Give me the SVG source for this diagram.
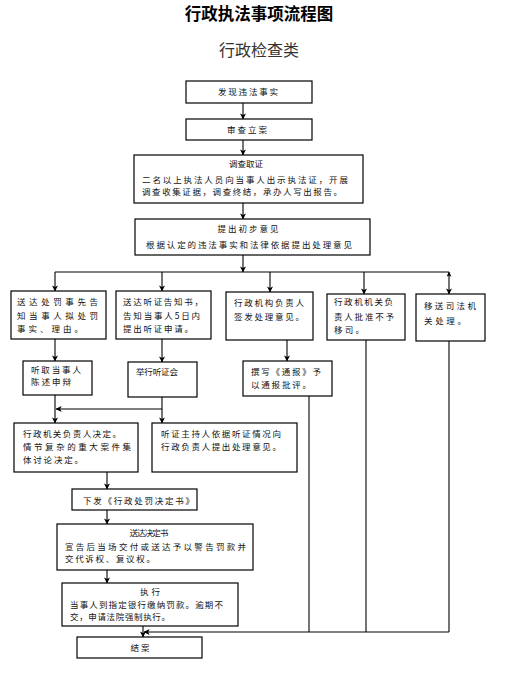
<svg xmlns="http://www.w3.org/2000/svg" width="509" height="679" viewBox="0 0 509 679">
<defs>
<style>
.box{fill:#fff;stroke:#000;stroke-width:1.2}
.t{font-family:"Noto Sans CJK SC","Noto Sans",sans-serif;font-size:8.5px;fill:#111}
.c{text-anchor:middle}
.ln{fill:none;stroke:#000;stroke-width:1.1}
.ar{fill:none;stroke:#000;stroke-width:1.1;marker-end:url(#ah)}
</style>
<marker id="ah" viewBox="0 0 8 8" refX="7.5" refY="4" markerWidth="6" markerHeight="6" markerUnits="userSpaceOnUse" orient="auto">
<path d="M0,0 L8,4 L0,8 L2,4 z" fill="#000"/>
</marker>
<marker id="as" viewBox="0 0 8 8" refX="0.5" refY="4" markerWidth="5" markerHeight="5" markerUnits="userSpaceOnUse" orient="auto">
<path d="M8,0 L0,4 L8,8 L6,4 z" fill="#000"/>
</marker>
</defs>
<rect width="509" height="679" fill="#fff"/>
<text x="259" y="20" text-anchor="middle" font-family="'Noto Sans CJK SC',sans-serif" font-size="16.5" font-weight="bold" fill="#000">行政执法事项流程图</text>
<text x="259" y="56" text-anchor="middle" font-family="'Noto Sans CJK SC',sans-serif" font-size="16" fill="#333">行政检查类</text>

<g id="connectors">
<line class="ar" x1="243" y1="103" x2="243" y2="119"/>
<line class="ar" x1="243" y1="140" x2="243" y2="155"/>
<line class="ar" x1="243" y1="203" x2="243" y2="219"/>
<line class="ar" x1="243" y1="255" x2="243" y2="272"/>
<line class="ln" x1="55" y1="272" x2="449" y2="272"/>
<line class="ar" x1="55" y1="272" x2="55" y2="291"/>
<line class="ar" x1="162" y1="272" x2="162" y2="291"/>
<line class="ar" x1="270" y1="272" x2="270" y2="292"/>
<line class="ar" x1="364" y1="272" x2="364" y2="294"/>
<line class="ar" x1="449" y1="272" x2="449" y2="294" style="marker-start:url(#as)"/>
<line class="ar" x1="55" y1="339" x2="55" y2="361"/>
<line class="ar" x1="162" y1="339" x2="162" y2="362"/>
<line class="ar" x1="287" y1="340" x2="287" y2="361"/>
<line class="ln" x1="366" y1="340" x2="366" y2="632"/>
<line class="ln" x1="449" y1="341" x2="449" y2="632" stroke="#444" stroke-width="1.6"/>
<line class="ln" x1="309" y1="396" x2="309" y2="632"/>
<line class="ar" x1="449" y1="632" x2="144" y2="632" stroke="#333" stroke-width="1.5"/>
<line class="ar" x1="55" y1="395" x2="55" y2="423"/>
<line class="ar" x1="162" y1="397" x2="162" y2="423"/>
<line class="ar" x1="162" y1="409" x2="56" y2="409"/>
<line class="ar" x1="107" y1="472" x2="107" y2="489"/>
<line class="ar" x1="107" y1="510" x2="107" y2="524"/>
<line class="ar" x1="107" y1="570" x2="107" y2="583"/>
<line class="ar" x1="143" y1="626" x2="143" y2="637"/>
</g>

<g id="n1"><rect class="box" x="186" y="81" width="126" height="22"/>
<text class="t c" x="248" y="95" textLength="60">发现违法事实</text></g>
<g id="n2"><rect class="box" x="186" y="119" width="126" height="21"/>
<text class="t c" x="247" y="133" textLength="40">审查立案</text></g>
<g id="n3"><rect class="box" x="134" y="155" width="229" height="48"/>
<text class="t c" x="246" y="167" textLength="34">调查取证</text>
<text class="t" x="142" y="183" textLength="206">二名以上执法人员向当事人出示执法证，开展</text>
<text class="t" x="142" y="195" textLength="200">调查收集证据，调查终结，承办人写出报告。</text></g>
<g id="n4"><rect class="box" x="135" y="219" width="235" height="36"/>
<text class="t c" x="248" y="232" textLength="61">提出初步意见</text>
<text class="t" x="146" y="248" textLength="206">根据认定的违法事实和法律依据提出处理意见</text></g>

<g id="nA"><rect class="box" x="11" y="291" width="95" height="48"/>
<text class="t" x="17" y="305" textLength="81">送达处罚事先告</text>
<text class="t" x="17" y="319" textLength="81">知当事人拟处罚</text>
<text class="t" x="17" y="332" textLength="66">事实、理由。</text></g>
<g id="nB"><rect class="box" x="116" y="291" width="95" height="48"/>
<text class="t" x="123" y="305" textLength="80">送达听证告知书，</text>
<text class="t" x="123" y="319" textLength="77">告知当事人5日内</text>
<text class="t" x="123" y="332" textLength="70">提出听证申请。</text></g>
<g id="nC"><rect class="box" x="226" y="292" width="87" height="48"/>
<text class="t" x="234" y="306" textLength="70">行政机构负责人</text>
<text class="t" x="234" y="320" textLength="70">签发处理意见。</text></g>
<g id="nD"><rect class="box" x="327" y="294" width="78" height="46"/>
<text class="t" x="334" y="305" textLength="59">行政机机关负</text>
<text class="t" x="334" y="320" textLength="60">责人批准不予</text>
<text class="t" x="334" y="333" textLength="30">移司。</text></g>
<g id="nE"><rect class="box" x="416" y="294" width="69" height="47"/>
<text class="t" x="424" y="309" textLength="52">移送司法机</text>
<text class="t" x="424" y="324" textLength="42">关处理。</text></g>

<g id="nF"><rect class="box" x="23" y="361" width="69" height="34"/>
<text class="t" x="31" y="373" textLength="50">听取当事人</text>
<text class="t" x="31" y="385" textLength="40">陈述申辩</text></g>
<g id="nG"><rect class="box" x="128" y="362" width="69" height="35"/>
<text class="t" x="136" y="375" textLength="42">举行听证会</text></g>
<g id="nH"><rect class="box" x="243" y="361" width="89" height="35"/>
<text class="t" x="251" y="375" textLength="70">撰写《通报》予</text>
<text class="t" x="251" y="388" textLength="60">以通报批评。</text></g>

<g id="nI"><rect class="box" x="14" y="423" width="124" height="49"/>
<text class="t" x="23" y="437" textLength="98">行政机关负责人决定。</text>
<text class="t" x="23" y="450" textLength="108">情节复杂的重大案件集</text>
<text class="t" x="23" y="463" textLength="60">体讨论决定。</text></g>
<g id="nJ"><rect class="box" x="152" y="423" width="145" height="49"/>
<text class="t" x="161" y="437" textLength="120">听证主持人依据听证情况向</text>
<text class="t" x="161" y="450" textLength="120">行政负责人提出处理意见。</text></g>

<g id="nK"><rect class="box" x="72" y="489" width="125" height="21"/>
<text class="t" x="83" y="504" textLength="111">下发《行政处罚决定书》</text></g>
<g id="nL"><rect class="box" x="57" y="524" width="196" height="46"/>
<text class="t c" x="149" y="536" textLength="39">送达决定书</text>
<text class="t" x="65" y="550" textLength="181">宣告后当场交付或送达予以警告罚款并</text>
<text class="t" x="65" y="562" textLength="90">交代诉权、复议权。</text></g>
<g id="nM"><rect class="box" x="62" y="583" width="176" height="43"/>
<text class="t c" x="150" y="595" font-size="10" textLength="20">执行</text>
<text class="t" x="70" y="608" textLength="153">当事人到指定银行缴纳罚款。逾期不</text>
<text class="t" x="70" y="620" textLength="100">交，申请法院强制执行。</text></g>
<g id="nN"><rect class="box" x="77" y="637" width="125" height="21"/>
<text class="t c" x="140" y="651" textLength="19">结案</text></g>
</svg>
